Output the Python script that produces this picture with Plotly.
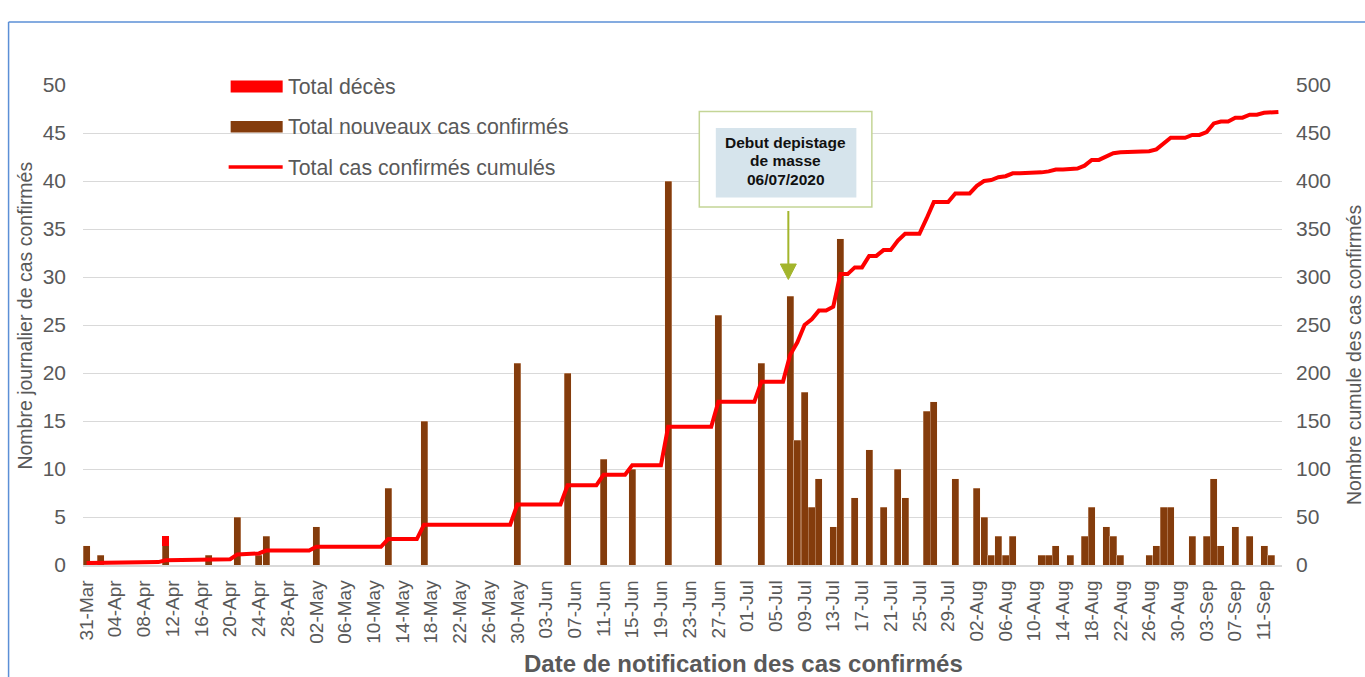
import pandas as pd
import plotly.graph_objects as go

# ---------------- data ----------------
dates = pd.date_range("2020-03-31", "2020-09-13", freq="D")

case_dates = ["2020-03-31", "2020-04-02", "2020-04-11", "2020-04-17", "2020-04-21", "2020-04-24",
              "2020-04-25", "2020-05-02", "2020-05-12", "2020-05-17", "2020-05-30", "2020-06-06",
              "2020-06-11", "2020-06-15", "2020-06-20", "2020-06-27", "2020-07-03", "2020-07-07",
              "2020-07-08", "2020-07-09", "2020-07-10", "2020-07-11", "2020-07-13", "2020-07-14",
              "2020-07-16", "2020-07-18", "2020-07-20", "2020-07-22", "2020-07-23", "2020-07-26",
              "2020-07-27", "2020-07-30", "2020-08-02", "2020-08-03", "2020-08-04", "2020-08-05",
              "2020-08-06", "2020-08-07", "2020-08-11", "2020-08-12", "2020-08-13", "2020-08-15",
              "2020-08-17", "2020-08-18", "2020-08-20", "2020-08-21", "2020-08-22", "2020-08-26",
              "2020-08-27", "2020-08-28", "2020-08-29", "2020-09-01", "2020-09-03", "2020-09-04",
              "2020-09-05", "2020-09-07", "2020-09-09", "2020-09-11", "2020-09-12"]
case_counts = [2, 1, 2, 1, 5, 1,
               3, 4, 8, 15, 21, 20,
               11, 10, 40, 26, 21, 28,
               13, 18, 6, 9, 4, 34,
               7, 12, 6, 10, 7, 16,
               17, 9, 8, 5, 1, 3,
               1, 3, 1, 1, 2, 1,
               3, 6, 4, 3, 1, 1,
               2, 6, 6, 3, 3, 9,
               2, 4, 3, 2, 1]

death_dates = ["2020-04-11"]
death_counts = [1]

cumulative_cases = [
    2, 2, 3, 3, 3, 3, 3, 3, 3, 3,
    3, 5, 5, 5, 5, 5, 5, 6, 6, 6,
    6, 11, 11, 11, 12, 15, 15, 15, 15, 15,
    15, 15, 19, 19, 19, 19, 19, 19, 19, 19,
    19, 19, 27, 27, 27, 27, 27, 42, 42, 42,
    42, 42, 42, 42, 42, 42, 42, 42, 42, 42,
    63, 63, 63, 63, 63, 63, 63, 83, 83, 83,
    83, 83, 94, 94, 94, 94, 104, 104, 104, 104,
    104, 144, 144, 144, 144, 144, 144, 144, 170, 170,
    170, 170, 170, 170, 191, 191, 191, 191, 219, 232,
    250, 256, 265, 265, 269, 303, 303, 310, 310, 322,
    322, 328, 328, 338, 345, 345, 345, 361, 378, 378,
    378, 387, 387, 387, 395, 400, 401, 404, 405, 408,
    408, 408, 408, 409, 410, 412, 412, 413, 413, 416,
    422, 422, 426, 429, 430, 430, 430, 430, 431, 433,
    439, 445, 445, 445, 448, 448, 451, 460, 462, 462,
    466, 466, 469, 469, 471, 472, 472]

legend_labels = ["Total décès", "Total nouveaux cas confirmés", "Total cas confirmés cumulés"]
note_lines = ["Debut depistage", "de masse", "06/07/2020"]

# ---------------- layout helpers ----------------
WIDTH, HEIGHT = 1365, 677
L, R, T, B = 83.4, 83, 85, 112
PW = WIDTH - L - R
PH = HEIGHT - T - B


def X(px):
    return (px - L) / PW


def Y(py):
    return (T + PH - py) / PH


FONT = "Liberation Sans, Arial, sans-serif"
GREY = "#595959"
BROWN = "#843C0C"
RED = "#FF0000"

fig = go.Figure()
fig.add_trace(go.Bar(x=pd.to_datetime(case_dates), y=case_counts, name=legend_labels[1],
                     marker=dict(color=BROWN, line=dict(color="rgba(255,235,220,0.6)", width=0.5)),
                     showlegend=False))
fig.add_trace(go.Bar(x=pd.to_datetime(death_dates), y=death_counts, name=legend_labels[0],
                     marker=dict(color=RED, line=dict(width=0)), showlegend=False))
fig.add_trace(go.Scatter(x=dates, y=cumulative_cases, name=legend_labels[2], mode="lines",
                         line=dict(color=RED, width=4), yaxis="y2", showlegend=False))

fig.update_layout(
    width=WIDTH, height=HEIGHT,
    margin=dict(l=L, r=R, t=T, b=B, pad=0),
    paper_bgcolor="white", plot_bgcolor="white",
    barmode="stack", bargap=0.02,
    font=dict(family=FONT, color=GREY),
    xaxis=dict(type="date",
               range=["2020-03-30 12:00", "2020-09-13 12:00"],
               tick0="2020-03-31", dtick=4 * 86400000, tickformat="%d-%b",
               tickangle=-90, tickfont=dict(size=19, color=GREY),
               showgrid=False, showline=True, linecolor="#D9D9D9", linewidth=1.5,
               ticks="", ticklabelstandoff=6, zeroline=False),
    yaxis=dict(range=[0, 50], dtick=5, showgrid=True, gridcolor="#D9D9D9", gridwidth=1.3,
               zeroline=False, tickfont=dict(size=21, color=GREY), ticks="",
               ticklabelstandoff=16),
    yaxis2=dict(range=[0, 500], dtick=50, overlaying="y", side="right", showgrid=False,
                zeroline=False, tickfont=dict(size=21, color=GREY), ticks="",
                ticklabelstandoff=13),
)

shapes = []
annotations = []

# outer chart border (top and left)
shapes.append(dict(type="line", xref="paper", yref="paper", x0=X(9), x1=X(1366), y0=Y(22), y1=Y(22),
                   line=dict(color="#5B8FD6", width=1.5), layer="above"))
shapes.append(dict(type="line", xref="paper", yref="paper", x0=X(9), x1=X(9), y0=Y(22), y1=Y(678),
                   line=dict(color="#5B8FD6", width=1.5), layer="above"))

# custom legend
shapes.append(dict(type="rect", xref="paper", yref="paper", x0=X(231), x1=X(283), y0=Y(92.5), y1=Y(80.5),
                   fillcolor=RED, line=dict(width=0), layer="above"))
shapes.append(dict(type="rect", xref="paper", yref="paper", x0=X(231), x1=X(283), y0=Y(132.5), y1=Y(121),
                   fillcolor=BROWN, line=dict(width=0), layer="above"))
shapes.append(dict(type="line", xref="paper", yref="paper", x0=X(229), x1=X(283), y0=Y(167), y1=Y(167),
                   line=dict(color=RED, width=3.5), layer="above"))
for lab, py in zip(legend_labels, [87, 127, 167.5]):
    annotations.append(dict(xref="paper", yref="paper", x=X(286), y=Y(py), text=lab, showarrow=False,
                            xanchor="left", yanchor="middle", font=dict(size=21.3, color=GREY, family=FONT)))

# axis titles
annotations.append(dict(xref="paper", yref="paper", x=X(744), y=Y(663),
                        text="<b>Date de notification des cas confirmés</b>", showarrow=False,
                        xanchor="center", yanchor="middle", font=dict(size=24, color=GREY, family=FONT)))
annotations.append(dict(xref="paper", yref="paper", x=X(25), y=Y(316),
                        text="Nombre journalier de cas confirmés", showarrow=False, textangle=-90,
                        xanchor="center", yanchor="middle", font=dict(size=19.5, color=GREY, family=FONT)))
annotations.append(dict(xref="paper", yref="paper", x=X(1354), y=Y(355),
                        text="Nombre cumule des cas confirmés", showarrow=False, textangle=-90,
                        xanchor="center", yanchor="middle", font=dict(size=19.5, color=GREY, family=FONT)))

# callout box
shapes.append(dict(type="rect", xref="paper", yref="paper", x0=X(699.5), x1=X(872), y0=Y(207), y1=Y(111.5),
                   fillcolor="white", line=dict(color="#C4D596", width=1.5), layer="above"))
shapes.append(dict(type="rect", xref="paper", yref="paper", x0=X(716), x1=X(856.5), y0=Y(197.5), y1=Y(128),
                   fillcolor="#D6E4EC", line=dict(width=0), layer="above"))
for txt, py in zip(note_lines, [142, 160.5, 179]):
    annotations.append(dict(xref="paper", yref="paper", x=X(786), y=Y(py), text="<b>%s</b>" % txt,
                            showarrow=False, xanchor="center", yanchor="middle",
                            font=dict(size=15.5, color="#111111", family=FONT)))

# callout arrow
ARROW = "#A3B52C"
shapes.append(dict(type="line", xref="paper", yref="paper", x0=X(788.5), x1=X(788.5), y0=Y(211), y1=Y(266),
                   line=dict(color=ARROW, width=2), layer="above"))
shapes.append(dict(type="path", xref="paper", yref="paper",
                   path="M %f,%f L %f,%f L %f,%f Z" % (X(780.5), Y(264), X(796.5), Y(264), X(788.5), Y(279.5)),
                   fillcolor=ARROW, line=dict(color=ARROW, width=1), layer="above"))

fig.update_layout(shapes=shapes, annotations=annotations)

fig.write_html("out.html", config={"displayModeBar": False},
               post_script="document.body.style.margin='0';")
